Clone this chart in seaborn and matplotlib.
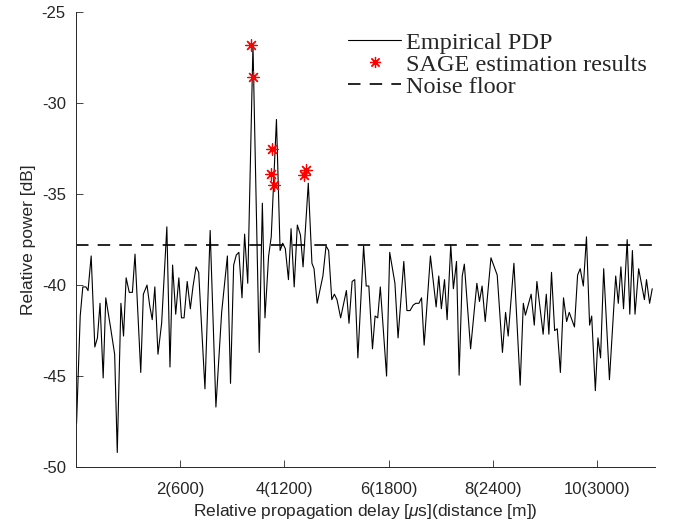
import matplotlib
matplotlib.use('Agg')
import matplotlib.pyplot as plt
import seaborn as sns
from matplotlib.lines import Line2D


# empirical power delay profile
delay_us = [
    0.02, 0.09, 0.14, 0.20, 0.24, 0.30, 0.37, 0.42, 0.47, 0.53,
    0.58, 0.67, 0.75, 0.80, 0.87, 0.92, 0.97, 1.03, 1.09, 1.14,
    1.25, 1.30, 1.37, 1.42, 1.47, 1.52, 1.58, 1.65, 1.75, 1.81,
    1.86, 1.92, 1.98, 2.03, 2.08, 2.14, 2.20, 2.25, 2.31, 2.36,
    2.48, 2.58, 2.69, 2.80, 2.91, 2.97, 3.03, 3.08, 3.13, 3.19,
    3.24, 3.30, 3.40, 3.52, 3.58, 3.63, 3.70, 3.75, 3.85, 3.92,
    3.97, 4.02, 4.08, 4.13, 4.19, 4.25, 4.31, 4.36, 4.46, 4.53,
    4.57, 4.63, 4.74, 4.80, 4.85, 4.91, 4.96, 5.01, 5.08, 5.19,
    5.24, 5.30, 5.35, 5.41, 5.52, 5.57, 5.62, 5.69, 5.74, 5.79,
    5.84, 5.96, 6.02, 6.12, 6.18, 6.29, 6.35, 6.41, 6.47, 6.52,
    6.58, 6.63, 6.68, 6.80, 6.91, 6.96, 7.01, 7.07, 7.12, 7.19,
    7.24, 7.30, 7.35, 7.41, 7.45, 7.57, 7.69, 7.74, 7.79, 7.85,
    7.96, 8.08, 8.18, 8.24, 8.29, 8.40, 8.52, 8.58, 8.62, 8.73,
    8.79, 8.84, 8.96, 9.02, 9.07, 9.12, 9.18, 9.23, 9.29, 9.35,
    9.41, 9.46, 9.56, 9.62, 9.67, 9.73, 9.79, 9.85, 9.89, 9.96,
    10.01, 10.06, 10.12, 10.23, 10.35, 10.40, 10.45, 10.50, 10.57, 10.62,
    10.67, 10.72, 10.79, 10.90, 10.94, 11.00, 11.05,
]
power_db = [
    -47.6, -41.7, -40.1, -40.1, -40.3, -38.4, -43.4, -42.9, -41.0, -45.1,
    -40.7, -42.3, -43.8, -49.2, -41.0, -42.8, -39.6, -40.4, -40.4, -38.3,
    -44.8, -40.5, -40.0, -41.1, -41.9, -40.1, -43.8, -42.1, -36.8, -44.5,
    -38.9, -41.6, -39.6, -41.8, -41.8, -39.8, -41.3, -40.1, -39.0, -39.3,
    -45.7, -37.0, -46.7, -41.5, -38.4, -45.4, -38.9, -38.35, -38.2, -40.7,
    -37.2, -39.9, -26.8, -43.7, -35.5, -41.8, -38.4, -37.35, -30.9, -38.1,
    -37.7, -38.0, -39.7, -36.9, -40.1, -36.7, -37.25, -39.0, -34.4, -38.8,
    -39.1, -41.0, -39.5, -37.85, -38.1, -40.8, -40.5, -40.8, -41.8, -40.3,
    -42.1, -39.8, -39.7, -44.0, -37.85, -40.05, -40.05, -43.5, -41.7, -41.8,
    -40.1, -45.0, -38.2, -39.9, -42.9, -38.7, -41.4, -41.4, -41.1, -41.0,
    -41.0, -40.7, -43.3, -38.4, -41.2, -39.5, -41.3, -39.7, -41.9, -37.8,
    -40.2, -38.7, -44.95, -39.5, -38.85, -43.5, -39.9, -40.9, -40.05, -42.0,
    -38.5, -39.45, -43.7, -41.5, -42.8, -38.8, -45.5, -41.0, -41.65, -40.5,
    -42.2, -39.8, -42.7, -40.5, -42.7, -39.3, -42.5, -42.4, -44.8, -40.7,
    -42.0, -41.5, -42.3, -39.45, -39.1, -40.05, -37.35, -42.2, -41.7, -45.8,
    -42.9, -44.0, -39.1, -45.2, -39.5, -41.0, -39.0, -41.3, -37.5, -41.6,
    -38.1, -41.6, -39.1, -40.8, -39.7, -41.0, -40.2,
]

# SAGE path estimates
sage_delay_us = [3.36, 3.40, 3.77, 3.74, 3.81, 4.41, 4.37]
sage_power_db = [-26.8, -28.55, -32.5, -33.9, -34.5, -33.65, -33.95]

noise_floor_db = -37.8

xtick_pos = [2, 4, 6, 8, 10]
xtick_labels = ['2(600)', '4(1200)', '6(1800)', '8(2400)', '10(3000)']
ytick_pos = [-50, -45, -40, -35, -30, -25]

sns.set_style('ticks')
plt.rcParams['font.family'] = ['Liberation Sans', 'DejaVu Sans']
plt.rcParams['axes.unicode_minus'] = False
plt.rcParams['mathtext.fontset'] = 'custom'
plt.rcParams['mathtext.it'] = 'Liberation Sans:italic'
plt.rcParams['mathtext.rm'] = 'Liberation Sans'

fig = plt.figure(figsize=(6.76, 5.26), dpi=100)
ax = fig.add_axes([0.1117, 0.112, 0.857, 0.865])

sns.lineplot(x=delay_us, y=power_db, color='black', linewidth=0.8,
             estimator=None, sort=False, ax=ax)
sns.scatterplot(x=sage_delay_us, y=sage_power_db, marker=(8, 2, 0),
                color='red', s=70, linewidth=0.9, zorder=3, ax=ax)
ax.axhline(noise_floor_db, color='black', linewidth=1.2, dashes=(7.5, 5.5))

ax.set_xlim(0, 11.1)
ax.set_ylim(-50, -25)
ax.set_xticks(xtick_pos)
ax.set_xticklabels(xtick_labels)
ax.set_yticks(ytick_pos)
ax.tick_params(direction='in', length=5, width=0.6, labelsize=12, pad=7,
               colors='#262626')
ax.tick_params(axis='x', pad=11)
ax.set_xlabel(r'Relative propagation delay [$\mu$s](distance [m])',
              fontsize=12.5, color='#262626', labelpad=3)
ax.set_ylabel('Relative power [dB]', fontsize=12.5, color='#262626', labelpad=4)
for side in ['left', 'bottom']:
    ax.spines[side].set_linewidth(0.7)
    ax.spines[side].set_color('#262626')
sns.despine(ax=ax)

handles = [
    Line2D([], [], color='black', linewidth=0.8),
    Line2D([], [], color='red', marker=(8, 2, 0), linestyle='none',
           markersize=8, markeredgewidth=0.9),
    Line2D([], [], color='black', linewidth=1.2, dashes=(7.5, 5.5)),
]
labels = ['Empirical PDP', 'SAGE estimation results', 'Noise floor']
ax.legend(handles, labels, loc='upper left', bbox_to_anchor=(0.47, 0.957),
          frameon=False, borderaxespad=0, borderpad=0, handlelength=2.2,
          handletextpad=0.2, labelspacing=0.0,
          prop={'family': ['Liberation Serif', 'DejaVu Serif'], 'size': 17.5})

fig.savefig('out.png', dpi=100)
